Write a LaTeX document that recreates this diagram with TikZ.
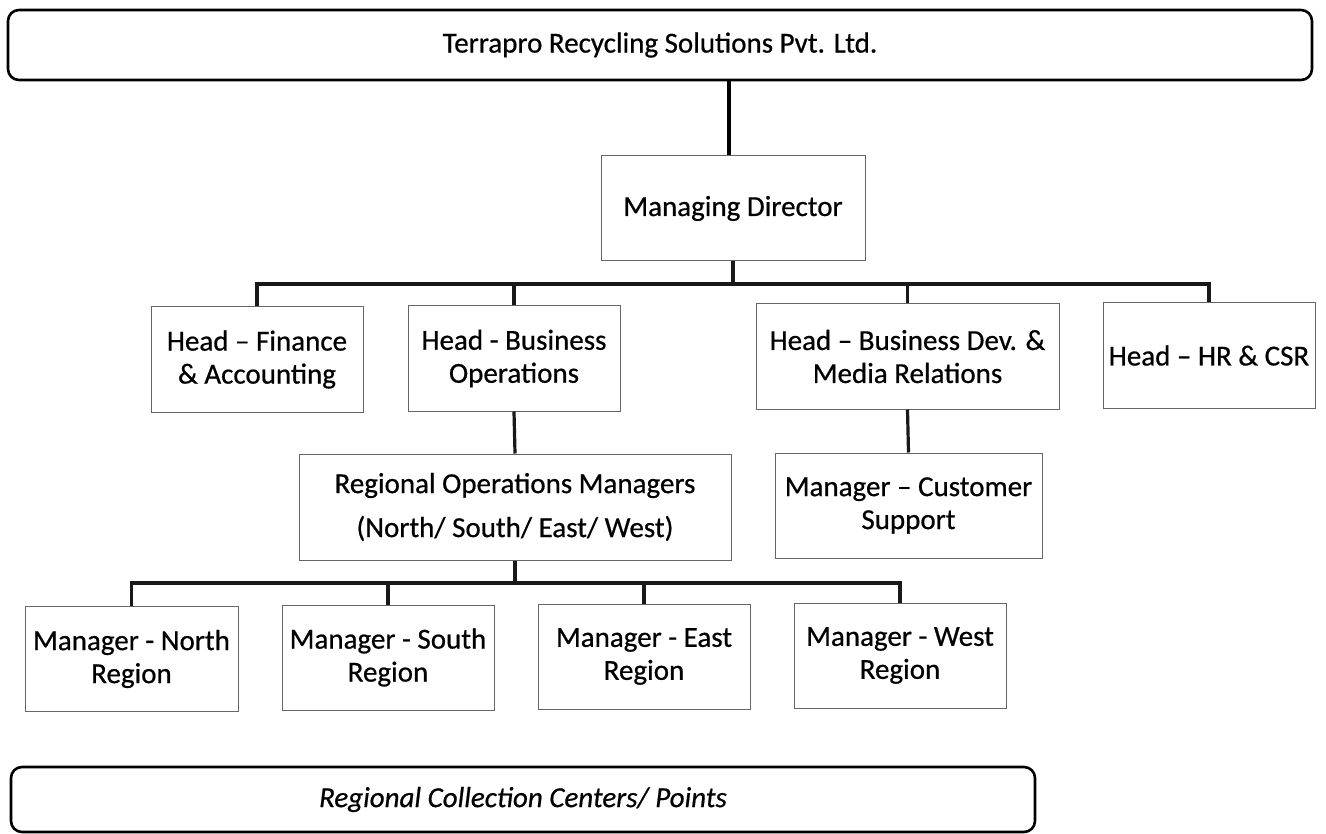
\documentclass[tikz,border=0pt]{standalone}
\usepackage{fontspec}
\setmainfont{Carlito}[UprightFeatures={FakeBold=0.6}, ItalicFeatures={FakeBold=0.6}]
\begin{document}
\begin{tikzpicture}[x=1pt,y=-1pt,
  box/.style={draw=black!60, line width=1pt, inner sep=0pt, align=center,
    font=\fontsize{29}{33}\selectfont, minimum height=105pt},
  bigbox/.style={draw=black, line width=2.6pt, rounded corners=11pt, inner sep=0pt,
    font=\fontsize{29}{33}\selectfont},
  conn/.style={line width=3.2pt, black!90},
  topconn/.style={line width=4.5pt, black}]
\useasboundingbox (0,0) rectangle (1326,834);

\node[bigbox, minimum width=1304pt, minimum height=70pt] (top) at (660,45) {Terrapro Recycling Solutions Pvt. Ltd.};
\node[box, minimum width=264pt] (md) at (733,208.5) {Managing Director};

\node[box, minimum width=212pt] (fin) at (257,359.5) {Head -- Finance\\ \& Accounting};
\node[box, minimum width=212pt] (bo) at (514,358.5) {Head - Business\\ Operations};
\node[box, minimum width=303pt] (bd) at (907.5,356.5) {Head -- Business Dev. \&\\ Media Relations};
\node[box, minimum width=212pt] (hr) at (1209,355.5) {Head -- HR \& CSR};

\node[box, minimum width=432pt, minimum height=106pt, font=\fontsize{29}{44}\selectfont] (ro) at (515,507) {Regional Operations Managers\\ (North/ South/ East/ West)};
\node[box, minimum width=267pt] (cs) at (908.5,505.5) {Manager -- Customer\\ Support};

\node[box, minimum width=213pt] (mn) at (131.5,659) {Manager - North\\ Region};
\node[box, minimum width=212pt] (ms) at (388,657.5) {Manager - South\\ Region};
\node[box, minimum width=212pt] (me) at (644,656.5) {Manager - East\\ Region};
\node[box, minimum width=212pt] (mw) at (900,655.5) {Manager - West\\ Region};

\node[bigbox, minimum width=1024pt, minimum height=65pt, font=\fontsize{29}{33}\selectfont\itshape] (bot) at (523,799.5) {Regional Collection Centers/ Points};

\coordinate (bus1) at (0,284);
\coordinate (bus2) at (0,583);

\draw[topconn] (top.south) ++(69,0) coordinate (tc) -- (tc |- md.north);
\draw[conn] (md.south) -- (md.south |- bus1);
\draw[conn] (fin.north) -- (fin.north |- bus1) -- (hr.north |- bus1) -- (hr.north);
\draw[conn] (bo.north) -- (bo.north |- bus1);
\draw[conn] (bd.north) -- (bd.north |- bus1);
\draw[conn] (bo.south) -- (ro.north);
\draw[conn] (bd.south) -- (cs.north);
\draw[conn] (ro.south) -- (ro.south |- bus2);
\draw[conn] (mn.north) -- (mn.north |- bus2) -- (mw.north |- bus2) -- (mw.north);
\draw[conn] (ms.north) -- (ms.north |- bus2);
\draw[conn] (me.north) -- (me.north |- bus2);
\end{tikzpicture}
\end{document}
